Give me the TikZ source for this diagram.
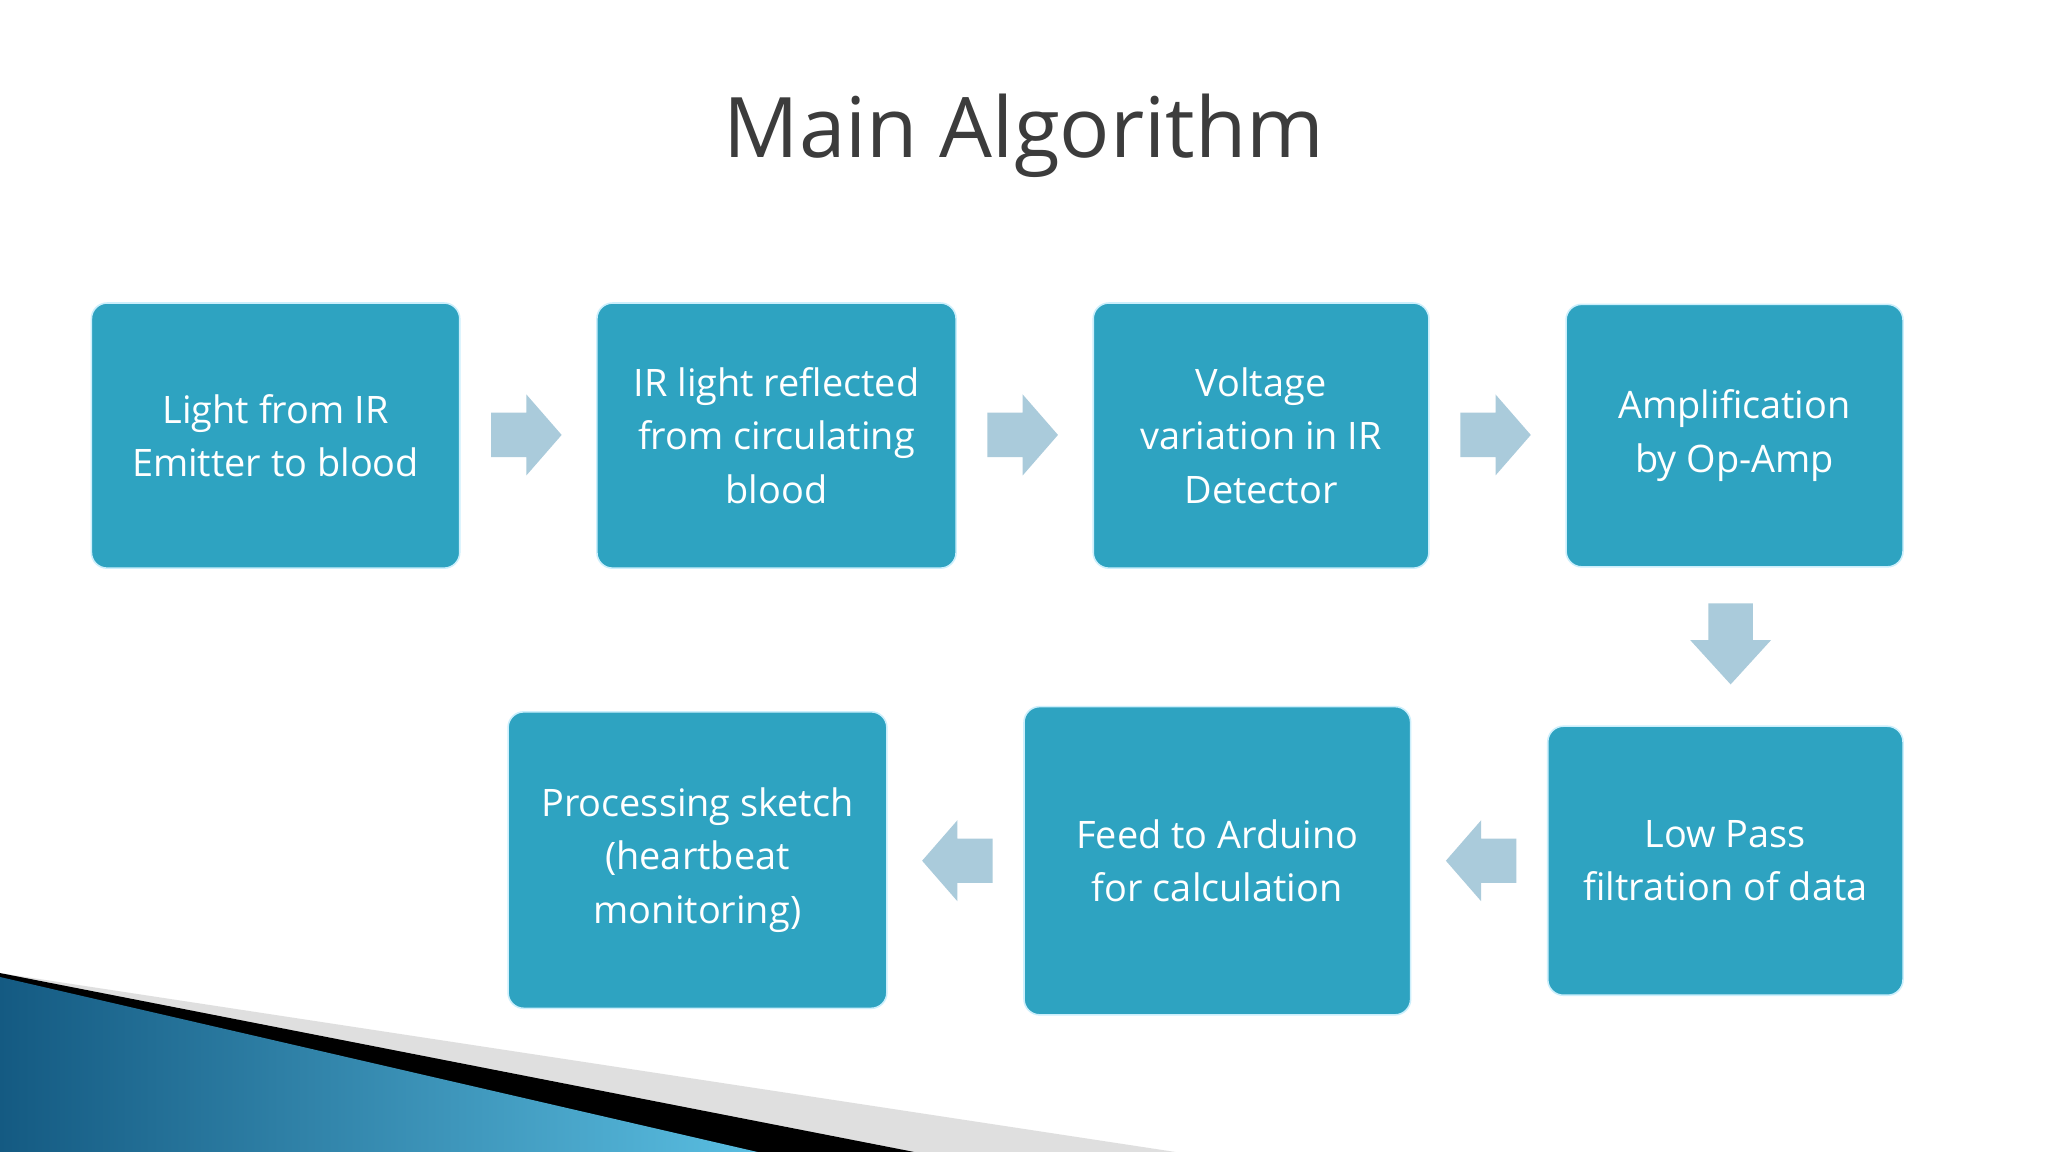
\documentclass[tikz,border=0pt]{standalone}
\usepackage{fontspec}
\setmainfont{Open Sans}
\begin{document}
\begin{tikzpicture}[x=1pt,y=-1pt,
  box/.style={draw=white!80!cyan,line width=1.2pt,fill={rgb,255:red,46;green,163;blue,193},rounded corners=12pt,text=white,align=center,font=\fontsize{29}{41}\selectfont,inner sep=0pt},
  arr/.style={fill={rgb,255:red,170;green,203;blue,219},draw=none}]
\useasboundingbox (0,0) rectangle (1568,882);
\fill[white] (0,0) rectangle (1568,882);
\node[text={rgb,255:red,60;green,60;blue,60},font=\fontsize{64}{70}\selectfont] (title) at (784,104) {Main Algorithm};
\node[box,minimum width=282pt,minimum height=203pt] (b1) at (211,333.5) {Light from IR\\Emitter to blood};
\node[box,minimum width=275pt,minimum height=203pt] (b2) at (594.5,333.5) {IR light reflected\\from circulating\\blood};
\node[box,minimum width=257pt,minimum height=203pt] (b3) at (965.5,333.5) {Voltage\\variation in IR\\Detector};
\node[box,minimum width=258pt,minimum height=201pt] (b4) at (1328,333.5) {Amplification\\by Op-Amp};
\node[box,minimum width=272pt,minimum height=206pt] (b5) at (1321,659) {Low Pass\\filtration of data};
\node[box,minimum width=296pt,minimum height=236pt] (b6) at (932,659) {Feed to Arduino\\for calculation};
\node[box,minimum width=290pt,minimum height=227pt] (b7) at (534,658.5) {Processing sketch\\(heartbeat\\monitoring)};
% right arrows
\foreach \x in {376,756,1118}{
 \fill[arr] (\x,316) -- (\x+27,316) -- (\x+27,302) -- (\x+54,333) -- (\x+27,364) -- (\x+27,350) -- (\x,350) -- cycle;}
% down arrow
\fill[arr] (1308,462) -- (1342,462) -- (1342,490) -- (1356,490) -- (1325,524) -- (1294,490) -- (1308,490) -- cycle;
% left arrows
\foreach \x in {760,1161}{
 \fill[arr] (\x,642) -- (\x-27,642) -- (\x-27,628) -- (\x-54,659) -- (\x-27,690) -- (\x-27,676) -- (\x,676) -- cycle;}
% bottom-left decoration
\fill[gray!25] (0,745) -- (900,882) -- (0,882) -- cycle;
\fill[black] (0,745) -- (700,882) -- (0,882) -- cycle;
\shade[left color={rgb,255:red,20;green,90;blue,130},right color={rgb,255:red,90;green,190;blue,225}] (0,748) -- (580,882) -- (0,882) -- cycle;
\end{tikzpicture}
\end{document}
